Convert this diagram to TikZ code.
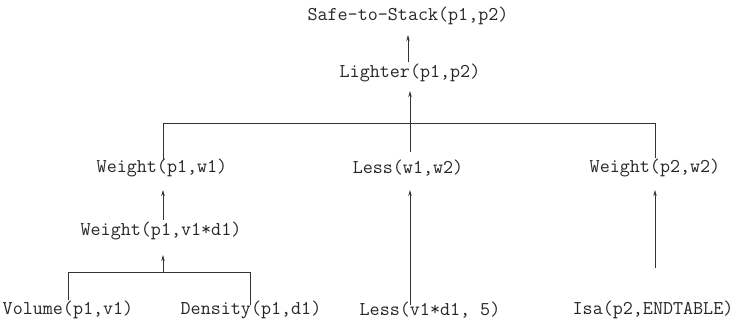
\documentclass[tikz,border=0pt]{standalone}
\usepackage{fontspec}
\usetikzlibrary{arrows.meta}
\begin{document}
\begin{tikzpicture}[x=1pt,y=-1pt,
  lit/.style={font=\ttfamily\fontsize{19.5}{22}\selectfont, inner sep=0pt, text=black!85},
  conn/.style={draw=black!80, line width=0.8pt},
  up/.style={conn, -{Stealth[length=6pt,width=3.5pt]}}]
\useasboundingbox (0,0) rectangle (736,327);
\node[lit] (safe) at (408,16) {Safe-to-Stack(p1,p2)};
\node[lit] (lighter) at (410,73) {Lighter(p1,p2)};
\node[lit] (w1) at (162,168) {Weight(p1,w1)};
\node[lit] (less1) at (408,168) {Less(w1,w2)};
\node[lit] (w2) at (655,168) {Weight(p2,w2)};
\node[lit] (wvd) at (161,231) {Weight(p1,v1*d1)};
\node[lit] (vol) at (68,310) {Volume(p1,v1)};
\node[lit] (den) at (251,310) {Density(p1,d1)};
\node[lit] (less2) at (430,310) {Less(v1*d1, 5)};
\node[lit] (isa) at (653,310) {Isa(p2,ENDTABLE)};
\coordinate (barL) at (163,123);
\coordinate (barR) at (655,123);
\coordinate (barM) at (410,123);
\coordinate (lbarL) at (68,272);
\coordinate (lbarR) at (250,272);
\coordinate (lbarM) at (163,272);
% top arrow
\draw[up] (408,62) -- (408,35);
% upper bar
\draw[conn] (163,160) -- (barL) -- (barR) -- (655,158);
\draw[up] (410,152) -- (410,91);
% weight(p1,v1*d1) -> weight(p1,w1)
\draw[up] (163,220) -- (163,190);
% lower bar
\draw[conn] (68,300) -- (lbarL) -- (lbarR) -- (250,305);
\draw[up] (lbarM) -- (163,255);
% less2 -> less1
\draw[up] (410,305) -- (410,190);
% isa -> w2
\draw[up] (655,268) -- (655,190);
\end{tikzpicture}
\end{document}
